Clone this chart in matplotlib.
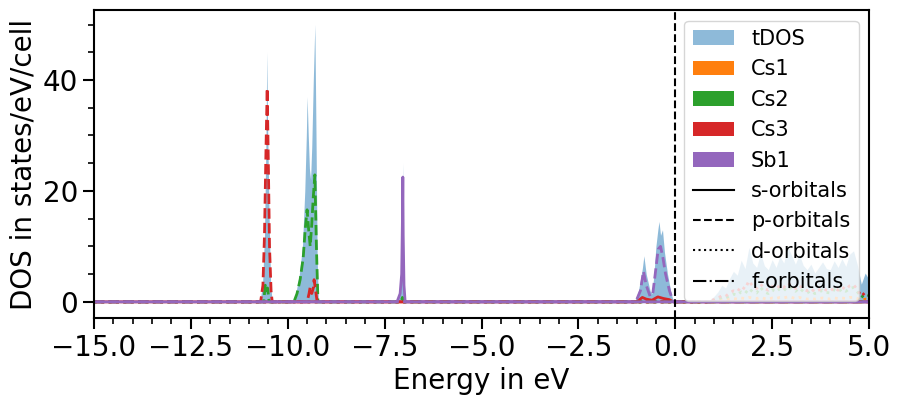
import matplotlib
matplotlib.use("Agg")
import matplotlib.pyplot as plt
from matplotlib.patches import Patch
from matplotlib.lines import Line2D
from matplotlib.ticker import MultipleLocator

# total DOS (valence part, hand read)
tdos_e = [-15.0, -10.72, -10.65, -10.6, -10.56, -10.54, -10.52, -10.48, -10.44, -10.4,
          -9.85, -9.78, -9.7, -9.62, -9.56, -9.52, -9.5, -9.47, -9.44, -9.41, -9.38,
          -9.34, -9.3, -9.27, -9.24, -9.21,
          -7.2, -7.12, -7.08, -7.05, -7.03, -7.01, -6.98, -6.95,
          -1.05, -0.95, -0.85, -0.81, -0.75, -0.65, -0.6, -0.55, -0.5, -0.45, -0.42,
          -0.38, -0.33, -0.28, -0.2, -0.12, -0.05]
tdos_v = [0.0, 0.0, 3.0, 12.0, 30.0, 45.0, 32.0, 15.0, 3.0, 0.0,
          0.0, 2.0, 5.0, 10.0, 20.0, 30.0, 37.0, 30.0, 24.0, 22.0, 28.0,
          40.0, 50.0, 30.0, 8.0, 0.0,
          0.0, 1.0, 3.0, 8.0, 25.0, 8.0, 1.0, 0.0,
          0.0, 2.0, 6.0, 8.3, 5.0, 2.0, 1.5, 5.0, 10.0, 13.0, 14.5,
          12.0, 13.0, 9.0, 5.0, 2.0, 0.0]

# conduction band grid
cb_e = [0.8, 0.9, 1.0, 1.1, 1.2, 1.3, 1.4, 1.5, 1.6, 1.7, 1.8, 1.9, 2.0, 2.1, 2.2,
        2.3, 2.4, 2.5, 2.6, 2.7, 2.8, 2.9, 3.0, 3.1, 3.2, 3.3, 3.4, 3.5, 3.6, 3.7,
        3.8, 3.9, 4.0, 4.1, 4.2, 4.3, 4.4, 4.5, 4.6, 4.7, 4.8, 4.9, 5.0]
cb_tdos = [0.0, 0.4, 1.0, 1.8, 3.0, 2.5, 4.2, 5.5, 4.8, 7.5, 6.0, 9.8, 7.0, 6.2, 8.8,
           6.5, 5.8, 7.6, 6.2, 8.2, 7.0, 10.0, 8.4, 6.8, 8.6, 6.6, 5.8, 6.8, 5.2, 6.2,
           7.2, 6.0, 5.8, 7.4, 6.2, 7.8, 6.4, 8.6, 9.2, 6.6, 3.2, 5.2, 4.0]
cb_cs1_d = [0.0, 0.1, 0.2, 0.3, 0.4, 0.4, 0.5, 0.6, 0.5, 0.7, 0.6, 0.8, 0.7, 0.6, 0.8,
            0.6, 0.5, 0.7, 0.6, 0.8, 0.7, 0.9, 0.8, 0.6, 0.8, 0.6, 0.5, 0.6, 0.5, 0.6,
            0.7, 0.6, 0.5, 0.7, 0.6, 0.7, 0.6, 0.8, 0.8, 0.6, 0.3, 0.5, 0.4]
cb_cs2_d = [0.0, 0.1, 0.3, 0.5, 0.8, 0.7, 1.1, 1.4, 1.2, 1.8, 1.5, 2.4, 1.8, 1.6, 2.6,
            1.8, 1.5, 2.2, 1.8, 2.4, 2.0, 2.8, 2.4, 1.9, 2.5, 1.9, 1.6, 2.0, 1.5, 1.7,
            2.1, 1.7, 1.6, 2.2, 1.8, 2.3, 1.9, 2.4, 2.6, 1.8, 0.8, 1.4, 1.1]
cb_cs3_d = [0.0, 0.2, 0.4, 0.7, 1.1, 1.0, 1.6, 2.0, 1.8, 2.8, 2.3, 3.8, 2.8, 2.4, 3.2,
            2.4, 2.1, 2.8, 2.3, 3.0, 2.6, 3.4, 2.9, 2.4, 3.0, 2.3, 2.0, 2.4, 1.8, 2.1,
            2.5, 2.1, 1.9, 2.6, 2.1, 2.7, 2.2, 2.9, 3.1, 2.2, 1.0, 1.7, 1.3]

# projected curves (hand read)
cs3_p_e = [-15.0, -10.7, -10.64, -10.6, -10.56, -10.53, -10.5, -10.47, -10.43, -10.4,
           -9.5, -9.45, -9.42, -9.38, -9.34, -9.32, -9.28, -9.24, 5.0]
cs3_p_v = [0.0, 0.0, 3.0, 12.0, 28.0, 38.5, 25.0, 10.0, 2.0, 0.0,
           0.0, 1.5, 2.7, 1.5, 2.5, 4.0, 2.0, 0.0, 0.0]
cs2_p_e = [-15.0, -10.62, -10.58, -10.55, -10.52, -10.48,
           -9.84, -9.76, -9.68, -9.6, -9.55, -9.5, -9.46, -9.42, -9.38, -9.34, -9.3,
           -9.26, -9.22, -7.08, -7.04, -7.0, 5.0]
cs2_p_v = [0.0, 0.0, 3.0, 2.0, 2.5, 0.0,
           0.0, 1.5, 4.0, 8.0, 13.0, 16.6, 13.0, 10.0, 14.0, 19.0, 22.9,
           10.0, 0.0, 0.0, 0.8, 0.0, 0.0]
cs3_s_e = [-15.0, -1.0, -0.85, -0.75, -0.6, -0.45, -0.3, -0.15, -0.05, 5.0]
cs3_s_v = [0.0, 0.0, 0.8, 0.5, 0.3, 0.9, 0.6, 0.4, 0.0, 0.0]
sb1_p_e = [-15.0, -1.02, -0.9, -0.82, -0.75, -0.65, -0.58, -0.5, -0.44, -0.38, -0.32,
           -0.25, -0.15, -0.05, 5.0]
sb1_p_v = [0.0, 0.0, 2.0, 5.5, 3.0, 1.0, 1.5, 6.0, 9.5, 10.0, 8.0,
           5.0, 2.0, 0.0, 0.0]
sb1_s_e = [-15.0, -7.18, -7.1, -7.06, -7.04, -7.03, -7.02, -7.0, -6.97, 5.0]
sb1_s_v = [0.0, 0.0, 1.5, 5.0, 15.0, 22.5, 12.0, 3.0, 0.0, 0.0]

species = ["Cs1", "Cs2", "Cs3", "Sb1"]
colors = {"Cs1": "C1", "Cs2": "C2", "Cs3": "C3", "Sb1": "C4"}
orbitals = ["s", "p", "d", "f"]
styles = {"s": "-", "p": "--", "d": ":", "f": "-."}

plt.rcParams["font.size"] = 20

(fig, ax) = plt.subplots(1, 1, figsize=(9, 4.04), dpi=100)
plt.subplots_adjust(left=0.1044, right=0.9656, top=0.975, bottom=0.213)

ax.fill_between(tdos_e + cb_e, tdos_v + cb_tdos, color="C0", alpha=0.5, lw=0)

# conduction band d states
ax.plot([-15.0] + cb_e, [0.0] + cb_cs1_d, color="C1", ls=":", lw=2)
ax.plot([-15.0] + cb_e, [0.0] + cb_cs2_d, color="C2", ls=":", lw=2)
ax.plot([-15.0] + cb_e, [0.0] + cb_cs3_d, color="C3", ls=":", lw=2)

ax.plot(cs3_s_e, cs3_s_v, color="C3", ls="-", lw=2)
ax.plot(cs2_p_e, cs2_p_v, color="C2", ls="--", lw=2)
ax.plot(cs3_p_e, cs3_p_v, color="C3", ls="--", lw=2)
ax.plot(sb1_p_e, sb1_p_v, color="C4", ls="--", lw=2)
ax.plot(sb1_s_e, sb1_s_v, color="C4", ls="-", lw=2)

ax.axvline(0.0, color="k", ls="--", lw=1.5)

ax.set_xlim(-15, 5)
ax.set_ylim(-2.9, 52.6)
ax.xaxis.set_minor_locator(MultipleLocator(0.5))
ax.yaxis.set_minor_locator(MultipleLocator(5))
ax.tick_params(which="major", length=8, width=1.5)
ax.tick_params(which="minor", length=4.5, width=1.2)
for sp in ax.spines.values():
    sp.set_linewidth(1.5)

ax.set_xlabel("Energy in eV")
ax.set_ylabel("DOS in states/eV/cell")

handles = [Patch(facecolor="C0", alpha=0.5, lw=0, label="tDOS")]
for s in species:
    handles.append(Patch(facecolor=colors[s], lw=0, label=s))
for o in orbitals:
    handles.append(Line2D([], [], color="k", ls=styles[o], lw=1.5, label=o + "-orbitals"))
ax.legend(handles=handles, loc="upper right", fontsize=15)

plt.savefig("out.png")
